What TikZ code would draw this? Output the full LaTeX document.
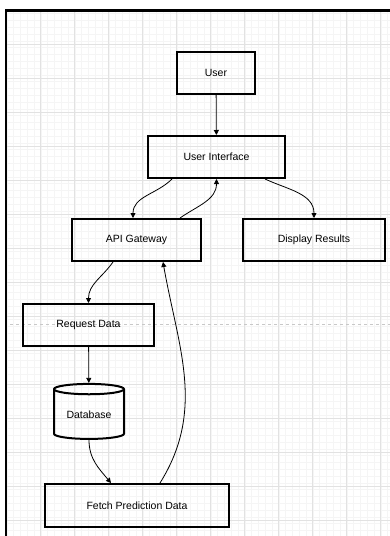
\documentclass[tikz,border=0pt]{standalone}
\usepackage{fontspec}
\setmainfont{Liberation Sans}
\usetikzlibrary{shapes.geometric,arrows.meta}
\definecolor{gridminor}{HTML}{F5F5F5}
\definecolor{gridmajor}{HTML}{E2E2E2}
\definecolor{dashgrey}{HTML}{C8C8C8}
\tikzset{
  box/.style={draw,line width=2pt,inner sep=0pt,font=\fontsize{10.5}{12}\selectfont},
  store/.style={box,cylinder,shape border rotate=90,aspect=0.23},
  arr/.style={-{Triangle[length=5pt,width=5pt]},line width=0.8pt}
}
\begin{document}
\begin{tikzpicture}[x=1pt,y=1pt]
		\useasboundingbox (0,0) rectangle (390,-536);

		% background grid
		\draw[gridminor,line width=0.5pt,step=6.8] (6,-10) grid (390,-536);
		\draw[gridmajor,line width=0.8pt,step=34,xshift=6pt,yshift=-10pt] (0,0) grid (384,-526);
		\draw[dashgrey,line width=1pt,dash pattern=on 3pt off 3pt] (10,-324) -- (390,-324);
		\draw[line width=2.5pt] (6,-536) -- (6,-10.5) -- (390,-10.5);

		\node[box,minimum width=78,minimum height=42] (user) at (216,-73) {User};
		\node[box,minimum width=137,minimum height=42] (ui) at (216.5,-157) {User Interface};
		\node[box,minimum width=129,minimum height=42] (api) at (136.5,-240) {API Gateway};
		\node[box,minimum width=142,minimum height=42] (disp) at (314,-240) {Display Results};
		\node[box,minimum width=131,minimum height=42] (req) at (88.5,-325) {Request Data};
		\node[store,minimum width=70,minimum height=55] (db) at (89,-414.5) {Database};
		\node[box,minimum width=184,minimum height=43] (fetch) at (137,-505.5) {Fetch Prediction Data};

		\draw[arr] (user) -- (ui);
		\draw[arr] ([xshift=-44.5pt]ui.south) to[out=-135,in=90] ([xshift=-3.5pt]api.north);
		\draw[arr] ([xshift=43.5pt]api.north) to[out=35,in=-90] (ui.south);
		\draw[arr] ([xshift=48.5pt]ui.south) to[out=-25,in=90] (disp.north);
		\draw[arr] ([xshift=-23.5pt]api.south) to[out=-125,in=90] (req.north);
		\draw[arr] (req) -- (db);
		\draw[arr] (db.south) to[out=-90,in=130] ([xshift=-26pt]fetch.north);
		\draw[arr] ([xshift=23pt]fetch.north) to[out=58,in=-80] ([xshift=26.5pt]api.south);
	\end{tikzpicture}
\end{document}
